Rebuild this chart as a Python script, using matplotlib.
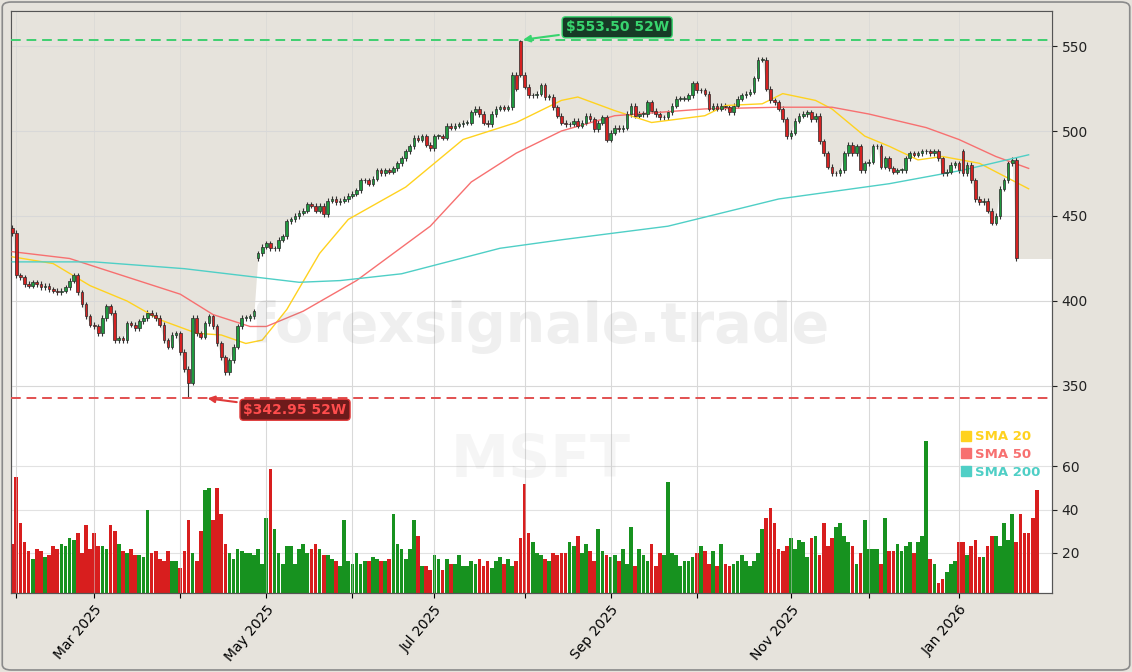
import matplotlib
matplotlib.use("Agg")
import matplotlib.pyplot as plt
from matplotlib.patches import FancyBboxPatch
from matplotlib.lines import Line2D
import numpy as np
import pandas as pd

# daily closes, Jan 31 2025 .. end of Jan 2026
CLOSE = [
    440, 415, 414, 410, 409, 411, 410, 408, 409, 407, 406, 405, 406, 408, 412, 415,
    405, 398, 391, 386, 385, 381, 390, 397, 393, 377, 378, 377, 387, 386, 384, 388,
    390, 393, 392, 390, 386, 377, 373, 380, 381, 370, 360, 352, 390, 381, 379, 387,
    391, 385, 375, 367, 358, 365, 373, 385, 390, 390, 391, 394, 428, 432, 434, 431,
    431, 436, 438, 447, 448, 450, 452, 453, 457, 456, 453, 456, 451, 459, 460, 458,
    459, 460, 462, 463, 465, 471, 471, 469, 472, 477, 475, 477, 476, 478, 481, 484,
    488, 491, 496, 495, 497, 492, 490, 497, 497, 496, 503, 502, 503, 504, 505, 505,
    511, 513, 510, 505, 504, 510, 513, 514, 513, 514, 533, 525, 533, 526, 521, 521,
    522, 527, 520,
    520, 514, 509, 505, 504, 504, 506, 503, 505, 509, 507, 501, 505, 508, 495, 499,
    502, 501, 502, 510, 515, 509, 510, 510, 517, 512, 510, 508, 508, 511, 515, 519,
    519, 519, 521, 528, 524, 524, 522, 513, 515, 513, 515, 514, 511, 515, 519, 521,
    522, 523, 531, 542, 542, 525, 518, 517, 513, 507, 497, 499, 506, 509, 510, 511,
    507, 509, 494, 487, 479, 475, 475, 477, 487, 492, 487, 491, 477, 481, 482, 491,
    491, 479, 484, 478, 476, 477, 477, 484, 487, 486, 487, 488, 488, 487, 488, 484,
    475, 476, 480, 481, 477, 475, 480, 471, 460, 458, 459, 453, 446, 450, 466, 471,
    481, 483, 425,
]
# opens that gap away from the previous close
OPEN_GAPS = {0: 443, 60: 425, 124: 553, 232: 488, 248: 440}
HIGH_52W = 553.50
LOW_52W = 342.95
HIGH_IDX = 124
LOW_IDX = 43

VOLUME = [
    24, 55, 34, 25, 21, 17, 22, 21, 18, 19, 23, 22, 24, 23, 27, 26, 29,
    20, 33, 22, 29, 23, 23, 22, 33, 30, 24, 21, 20, 22, 19, 19, 18, 40, 20, 21, 17,
    16, 21, 16, 16, 13, 21, 35, 20, 16, 30, 49, 50, 35, 50, 38, 24, 20, 17, 22, 21,
    20, 20, 19, 22, 15, 36, 59, 31, 20, 15, 23, 23, 15, 22, 24, 20, 22, 24, 22, 19,
    19, 17, 16, 14, 35, 16, 15, 20, 15, 16, 16, 18, 17, 16, 16, 17, 38, 24, 22, 17,
    22, 35, 28, 14, 14, 12, 19, 17, 12, 17, 15, 15, 19, 14, 14, 16, 15, 17, 14, 16,
    13, 16, 18, 15, 17, 14, 16, 27,
    52, 29, 25, 20, 19, 17, 16, 20, 19, 20, 20, 25, 23, 28, 20, 24, 21, 16, 31, 21,
    19, 18, 19, 16, 22, 15, 32, 14, 22, 19, 16, 24, 14, 20, 19, 53, 20, 19,
    14, 16, 16, 18, 20, 23, 21, 15, 21, 14, 24, 15, 14, 15, 16, 19, 16, 14, 16, 20,
    31, 36, 41, 34, 22, 21, 23, 27, 22, 26, 25, 18, 27, 28, 19, 34, 23, 27, 32, 34,
    28, 25, 23, 15, 20, 35, 22, 22, 22, 15, 36, 21, 21, 24, 21, 23, 25, 20, 25, 28, 72, 17, 15,
    6, 8, 11, 15, 16, 25, 25, 19, 23, 26, 18, 18, 23, 28, 28, 23, 34, 26, 38, 25,
    38, 29, 29, 36, 49,
]

# moving averages sampled at trading-day indices
SMA20_IDX = [0, 10, 19, 28, 36, 45, 51, 57, 61, 67, 75, 82, 96, 110, 123, 134, 138,
             147, 156, 169, 174, 183, 188, 196, 200, 208, 214, 221, 227, 236, 244, 248]
SMA20_VAL = [426, 422, 409, 400, 389, 381, 380, 375, 377, 395, 428, 448, 467, 495, 505,
             518, 520, 512, 505, 509, 515, 516, 522, 518, 513, 497, 491, 483, 485, 481,
             471, 466]
SMA50_IDX = [0, 14, 23, 32, 41, 49, 58, 62, 71, 84, 102, 112, 123, 134, 147, 169, 187,
             200, 209, 223, 231, 240, 248]
SMA50_VAL = [429, 425, 418, 411, 404, 392, 385, 385, 394, 412, 444, 470, 487, 500, 509,
             513, 514, 514, 510, 502, 495, 485, 478]
SMA200_IDX = [0, 20, 42, 63, 70, 80, 95, 119, 134, 160, 187, 214, 232, 248]
SMA200_VAL = [423, 423, 419, 413, 411, 412, 416, 431, 436, 444, 460, 469, 477, 486]

HOLIDAYS = ["2025-02-17", "2025-04-18", "2025-05-26", "2025-06-19", "2025-07-04",
            "2025-09-01", "2025-11-27", "2025-12-25", "2026-01-01", "2026-01-19"]

BG = "#e6e3dc"
UP, DOWN = "#1f9a3f", "#d42222"
UP_VOL, DOWN_VOL = "#17921f", "#d81e1e"


def main():
    close = np.array(CLOSE, dtype=float)
    n = len(close)
    opens = np.r_[close[0], close[:-1]]
    for i, v in OPEN_GAPS.items():
        if i < n:
            opens[i] = v
    highs = np.maximum(opens, close) + 1.5
    lows = np.minimum(opens, close) - 1.5
    highs[HIGH_IDX] = HIGH_52W
    lows[LOW_IDX] = LOW_52W
    up = close >= opens

    n_all = max(n, len(VOLUME))
    bday = pd.offsets.CustomBusinessDay(holidays=HOLIDAYS)
    dates = pd.date_range("2025-01-31", periods=n_all, freq=bday)
    idx = np.arange(n)

    fig = plt.figure(figsize=(11.32, 6.72), dpi=100, facecolor=BG)
    fig.patches.append(FancyBboxPatch((0.002, 0.003), 0.996, 0.994,
                                      boxstyle="round,pad=0,rounding_size=0.008",
                                      transform=fig.transFigure, fc="none",
                                      ec="#8a8a8a", lw=1.2))
    rect = [11 / 1132, 79 / 672, (1052 - 11) / 1132, (593 - 11) / 672]
    ax_vol = fig.add_axes(rect)
    ax = ax_vol.twinx()
    ax.set_zorder(2)
    ax.patch.set_visible(False)
    ax_vol.set_facecolor("white")

    # volume
    vol_colors = [UP_VOL if (i < n and up[i]) else DOWN_VOL for i in range(len(VOLUME))]
    ax_vol.bar(np.arange(len(VOLUME)), VOLUME, width=0.9, color=vol_colors, zorder=2)
    ax_vol.set_ylim(1.4, 271)
    ax_vol.set_yticks([20, 40, 60])
    ax_vol.yaxis.tick_right()

    # price
    ax.set_xlim(-0.3, 253.7)
    ymin, ymax = 228.2, 570.6
    ax.set_ylim(ymin, ymax)
    fx = np.r_[-1, idx, 255]
    fy = np.r_[close[0], close, close[-1]]
    ax.fill_between(fx, fy, ymax, color=BG, lw=0, zorder=0)
    ax.vlines(idx, lows, highs, color="#333333", lw=0.8, zorder=3)
    body = np.maximum(np.abs(close - opens), 0.4)
    ax.bar(idx, body, bottom=np.minimum(opens, close), width=0.65,
           color=np.where(up, UP, DOWN), edgecolor="#2a2a2a", lw=0.5, zorder=4)

    ax.plot(SMA20_IDX, SMA20_VAL, color="#ffd21f", lw=1.0, zorder=3)
    ax.plot(SMA50_IDX, SMA50_VAL, color="#f77070", lw=1.0, zorder=3)
    ax.plot(SMA200_IDX, SMA200_VAL, color="#4fcfc6", lw=1.0, zorder=3)

    ax.axhline(HIGH_52W, color="#3ecf70", ls=(0, (5, 3)), lw=1.4, zorder=3)
    ax.axhline(LOW_52W, color="#e25050", ls=(0, (5, 3)), lw=1.4, zorder=3)
    ax.annotate(f"${HIGH_52W:.2f} 52W", xy=(HIGH_IDX, HIGH_52W), xytext=(147.6, 561),
                ha="center", va="center", color="#38d46e", fontsize=10, fontweight="bold",
                bbox=dict(boxstyle="round,pad=0.25", fc="#173a26", ec="#38d46e", lw=1),
                arrowprops=dict(arrowstyle="-|>", color="#38d46e", lw=1.5), zorder=6)
    ax.annotate(f"${LOW_52W:.2f} 52W", xy=(47, LOW_52W), xytext=(69, 336),
                ha="center", va="center", color="#ff4d4d", fontsize=10, fontweight="bold",
                bbox=dict(boxstyle="round,pad=0.25", fc="#6e1b1b", ec="#e03a3a", lw=1),
                arrowprops=dict(arrowstyle="-|>", color="#e03a3a", lw=1.5), zorder=6)

    ax.set_yticks([350, 400, 450, 500, 550])
    for a in (ax, ax_vol):
        a.tick_params(axis="y", labelsize=10, colors="#222222")
        for s in a.spines.values():
            s.set_color("#555555")

    # grid
    ax_vol.grid(True, axis="y", color="#e2e2e2", lw=0.8, zorder=0)
    ax.grid(True, axis="y", color="#d8d8d8", lw=0.8, zorder=1)

    # month ticks
    month_starts = [i for i in range(1, n_all) if dates[i].month != dates[i - 1].month]
    labels = [dates[i].strftime("%b %Y") if dates[i].month % 2 == 1 else "" for i in month_starts]
    ax_vol.set_xticks(month_starts)
    ax_vol.set_xticklabels(labels, rotation=50, ha="right", rotation_mode="anchor", fontsize=10)
    for m in month_starts:
        ax_vol.axvline(m, color="#e0e0e0", lw=0.8, zorder=0)
        ax.axvline(m, color="#d4d4d4", lw=0.6, zorder=1, alpha=0.6)

    handles = [Line2D([], [], marker="s", ls="none", color=c, markersize=7)
               for c in ("#ffd21f", "#f77070", "#4fcfc6")]
    leg = ax.legend(handles, ["SMA 20", "SMA 50", "SMA 200"], loc="upper left",
                    bbox_to_anchor=(0.902, 0.30), frameon=False,
                    handlelength=0.6, handletextpad=0.4, labelspacing=0.35,
                    prop={"weight": "bold", "size": 9.5})
    for t, c in zip(leg.get_texts(), ("#ffd21f", "#f77070", "#4fcfc6")):
        t.set_color(c)

    fig.text(0.477, 0.513, "forexsignale.trade", fontsize=40, fontweight="bold",
             color="#888888", alpha=0.13, ha="center", va="center", zorder=10)
    fig.text(0.478, 0.315, "MSFT", fontsize=42, fontweight="bold",
             color="#888888", alpha=0.08, ha="center", va="center", zorder=10)

    fig.savefig("out.png", dpi=100, facecolor=BG)


if __name__ == "__main__":
    main()
